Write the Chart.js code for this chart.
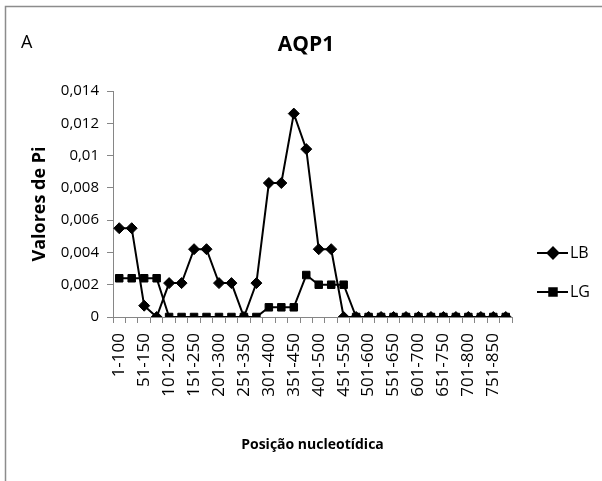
<!DOCTYPE html>
<html>
<head>
<meta charset="utf-8">
<script src="https://cdn.jsdelivr.net/npm/chart.js@4.4.1/dist/chart.umd.min.js"></script>
<style>
  html, body { margin: 0; padding: 0; background: #ffffff; }
  #wrap { width: 602px; height: 481px; position: relative; }
</style>
</head>
<body>
<div id="wrap"><canvas id="c" width="602" height="481"></canvas></div>
<script>
// ---- data ----
const categories = [
  "1-100","26-125","51-150","76-175","101-200","126-225","151-250","176-275",
  "201-300","226-325","251-350","276-375","301-400","326-425","351-450","376-475",
  "401-500","426-525","451-550","476-575","501-600","526-625","551-650","576-675",
  "601-700","626-725","651-750","676-775","701-800","726-825","751-850","776-875"
];
const seriesNames = ["LB", "LG"];
const lbValues = [
  0.0055, 0.0055, 0.0007, 0, 0.0021, 0.0021, 0.0042, 0.0042,
  0.0021, 0.0021, 0, 0.0021, 0.0083, 0.0083, 0.0126, 0.0104,
  0.0042, 0.0042, 0, 0, 0, 0, 0, 0,
  0, 0, 0, 0, 0, 0, 0, 0
];
const lgValues = [
  0.0024, 0.0024, 0.0024, 0.0024, 0, 0, 0, 0,
  0, 0, 0, 0, 0.0006, 0.0006, 0.0006, 0.0026,
  0.0020, 0.0020, 0.0020, 0, 0, 0, 0, 0,
  0, 0, 0, 0, 0, 0, 0, 0
];
const yTicks = [0, 0.002, 0.004, 0.006, 0.008, 0.01, 0.012, 0.014];
const titleText = "AQP1";
const panelLetter = "A";
const yTitle = "Valores de Pi";
const xTitle = "Posição nucleotídica";

// ---- styles ----
const FONT = "'Open Sans', 'Liberation Sans', sans-serif";
const AXIS_GRAY = "#868686";

const decorPlugin = {
  id: 'decor',
  beforeDraw(chart) {
    const ctx = chart.ctx;
    ctx.save();
    ctx.fillStyle = '#ffffff';
    ctx.fillRect(0, 0, chart.width, chart.height);
    // outer chart border (top and left visible)
    ctx.strokeStyle = '#8c8c8c';
    ctx.lineWidth = 1.5;
    ctx.beginPath();
    ctx.moveTo(5.5, chart.height);
    ctx.lineTo(5.5, 6.5);
    ctx.lineTo(chart.width, 6.5);
    ctx.stroke();
    ctx.restore();
  },
  afterDraw(chart) {
    const ctx = chart.ctx;
    ctx.save();
    ctx.fillStyle = '#000000';
    ctx.textBaseline = 'middle';
    // panel letter
    ctx.font = "18px " + FONT;
    ctx.textAlign = 'left';
    ctx.fillText(panelLetter, 21, 43);
    // title
    ctx.font = "bold 21px " + FONT;
    ctx.textAlign = 'center';
    ctx.fillText(titleText, 306, 45);
    // legend
    const legendY = [253, 292];
    chart.data.datasets.forEach((ds, i) => {
      const y = legendY[i];
      ctx.strokeStyle = ds.borderColor;
      ctx.lineWidth = ds.borderWidth;
      ctx.beginPath();
      ctx.moveTo(537, y);
      ctx.lineTo(568, y);
      ctx.stroke();
      Chart.helpers.drawPoint(ctx, {
        pointStyle: ds.pointStyle,
        radius: ds.pointRadius,
        borderWidth: 1,
        rotation: 0
      }, 553, y);
      ctx.fillStyle = '#000';
      ctx.fill();
      ctx.font = "16px " + FONT;
      ctx.textAlign = 'left';
      ctx.fillStyle = '#000';
      ctx.fillText(ds.label, 570, y);
    });
    ctx.restore();
  }
};

const fmt = v => String(Math.round(v * 1000) / 1000).replace('.', ',');

new Chart(document.getElementById('c'), {
  type: 'line',
  data: {
    labels: categories,
    datasets: [
      {
        label: seriesNames[0],
        data: lbValues,
        borderColor: '#000000',
        backgroundColor: '#000000',
        borderWidth: 2,
        pointStyle: 'rectRot',
        pointRadius: 5.5,
        pointBorderWidth: 1,
        tension: 0,
        fill: false
      },
      {
        label: seriesNames[1],
        data: lgValues,
        borderColor: '#000000',
        backgroundColor: '#000000',
        borderWidth: 2,
        pointStyle: 'rect',
        pointRadius: 5.3,
        pointBorderWidth: 1,
        tension: 0,
        fill: false
      }
    ]
  },
  options: {
    responsive: false,
    animation: false,
    devicePixelRatio: 1,
    layout: { padding: { top: 91, left: 25, right: 90, bottom: 24 } },
    plugins: {
      legend: { display: false },
      title: { display: false },
      tooltip: { enabled: false }
    },
    scales: {
      x: {
        type: 'category',
        offset: true,
        grid: {
          offset: true,
          drawOnChartArea: false,
          drawTicks: true,
          tickLength: 6,
          color: AXIS_GRAY,
          lineWidth: 1
        },
        border: { color: AXIS_GRAY, width: 1 },
        ticks: {
          autoSkip: false,
          maxRotation: 90,
          minRotation: 90,
          padding: 10,
          color: '#000',
          font: { family: FONT, size: 17 },
          callback: function(value, index) {
            return index % 2 === 0 ? categories[index] : '';
          }
        },
        title: {
          display: true,
          text: xTitle,
          color: '#000',
          font: { family: FONT, size: 14, weight: 'bold' },
          padding: { top: 4, bottom: 4 }
        },
        afterFit(scale) { scale.height = 140; }
      },
      y: {
        min: 0,
        max: 0.014,
        afterBuildTicks(scale) { scale.ticks = yTicks.map(v => ({ value: v })); },
        grid: {
          drawOnChartArea: false,
          drawTicks: true,
          tickLength: 6,
          color: AXIS_GRAY,
          lineWidth: 1
        },
        border: { color: AXIS_GRAY, width: 1 },
        ticks: {
          padding: 8,
          color: '#000',
          font: { family: FONT, size: 15 },
          callback: v => fmt(v)
        },
        title: {
          display: true,
          text: yTitle,
          color: '#000',
          font: { family: FONT, size: 18, weight: 'bold' },
          padding: { top: 4, bottom: 4 }
        },
        afterFit(scale) { scale.width = 88; }
      }
    }
  },
  plugins: [decorPlugin]
});
</script>
</body>
</html>
